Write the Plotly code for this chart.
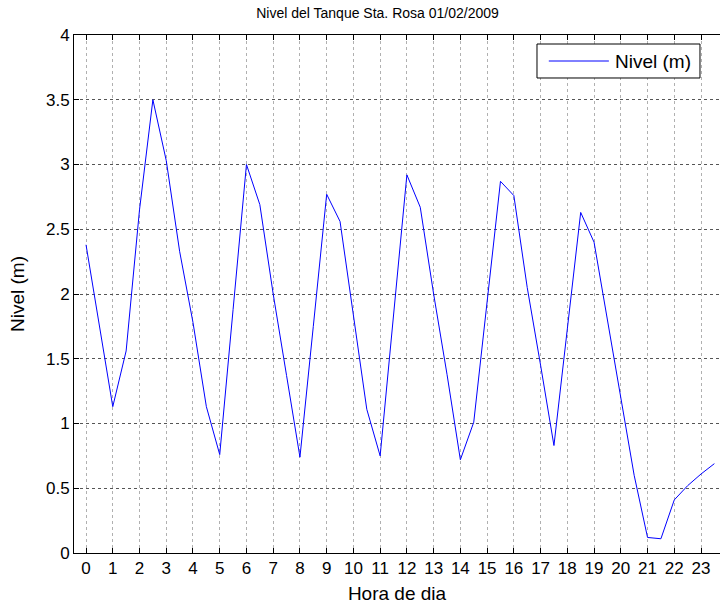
import plotly.graph_objects as go

hours = [0, 0.5, 1, 1.5, 2, 2.5, 3, 3.5, 4, 4.5, 5, 5.5, 6, 6.5, 7, 7.5,
         8, 8.5, 9, 9.5, 10, 10.5, 11, 11.5, 12, 12.5, 13, 13.5, 14, 14.5, 15, 15.5,
         16, 16.5, 17, 17.5, 18, 18.5, 19, 19.5, 20, 20.5, 21, 21.5, 22, 22.5, 23, 23.5]
nivel = [2.38, 1.76, 1.13, 1.56, 2.65, 3.50, 3.03, 2.33, 1.78, 1.13, 0.76, 1.88,
         3.00, 2.69, 2.00, 1.37, 0.74, 1.75, 2.77, 2.56, 1.82, 1.11, 0.75, 1.83,
         2.92, 2.67, 2.00, 1.38, 0.72, 1.01, 1.94, 2.87, 2.76, 2.05, 1.45, 0.83,
         1.73, 2.63, 2.40, 1.79, 1.18, 0.60, 0.12, 0.11, 0.41, 0.52, 0.61, 0.69]
xticks = list(range(0, 24))
yticks = [0, 0.5, 1, 1.5, 2, 2.5, 3, 3.5, 4]
ytick_labels = ["0", "0.5", "1", "1.5", "2", "2.5", "3", "3.5", "4"]
series_name = "Nivel (m)"
line_color = "#0000FF"

FONT = "Liberation Sans, Arial, sans-serif"

fig = go.Figure()
fig.add_trace(go.Scatter(x=hours, y=nivel, mode="lines", name=series_name,
                         line=dict(color=line_color, width=1), showlegend=False))

# MATLAB-style legend box (drawn in paper coordinates)
fig.add_shape(type="rect", xref="paper", yref="paper",
              x0=0.7167, x1=0.969, y0=0.917, y1=0.9826,
              line=dict(color="black", width=1), fillcolor="white", layer="above")
fig.add_shape(type="line", xref="paper", yref="paper",
              x0=0.735, x1=0.828, y0=0.9498, y1=0.9498,
              line=dict(color=line_color, width=1), layer="above")
fig.add_annotation(text=series_name, xref="paper", yref="paper",
                   x=0.835, y=0.9498, xanchor="left", yanchor="middle",
                   showarrow=False, font=dict(size=19, family=FONT, color="black"))

fig.update_layout(
    width=720, height=607,
    margin=dict(l=74, r=0, t=35, b=54),
    paper_bgcolor="white", plot_bgcolor="white",
    font=dict(family=FONT, size=17, color="black"),
    title=dict(text="Nivel del Tanque Sta. Rosa 01/02/2009",
               xref="container", x=377.5 / 720, xanchor="center",
               yref="container", y=1 - 13 / 607, yanchor="middle",
               font=dict(size=14, family=FONT)),
    showlegend=False,
)
fig.update_xaxes(
    range=[-0.45, 23.71], tickvals=xticks, ticktext=[str(v) for v in xticks],
    showline=True, linecolor="black", linewidth=1, mirror="ticks",
    ticks="inside", ticklen=5, tickcolor="black",
    showgrid=True, gridcolor="#b0b0b0", griddash="dot", gridwidth=1,
    zeroline=False,
    title=dict(text="Hora de dia", standoff=9, font=dict(size=19)),
)
fig.update_yaxes(
    range=[0, 4], tickvals=yticks, ticktext=ytick_labels,
    showline=True, linecolor="black", linewidth=1,
    ticks="inside", ticklen=5, tickcolor="black",
    showgrid=True, gridcolor="#555555", griddash="dot", gridwidth=1,
    zeroline=False,
    title=dict(text="Nivel (m)", standoff=16, font=dict(size=19)),
)

fig.write_html("out.html")
